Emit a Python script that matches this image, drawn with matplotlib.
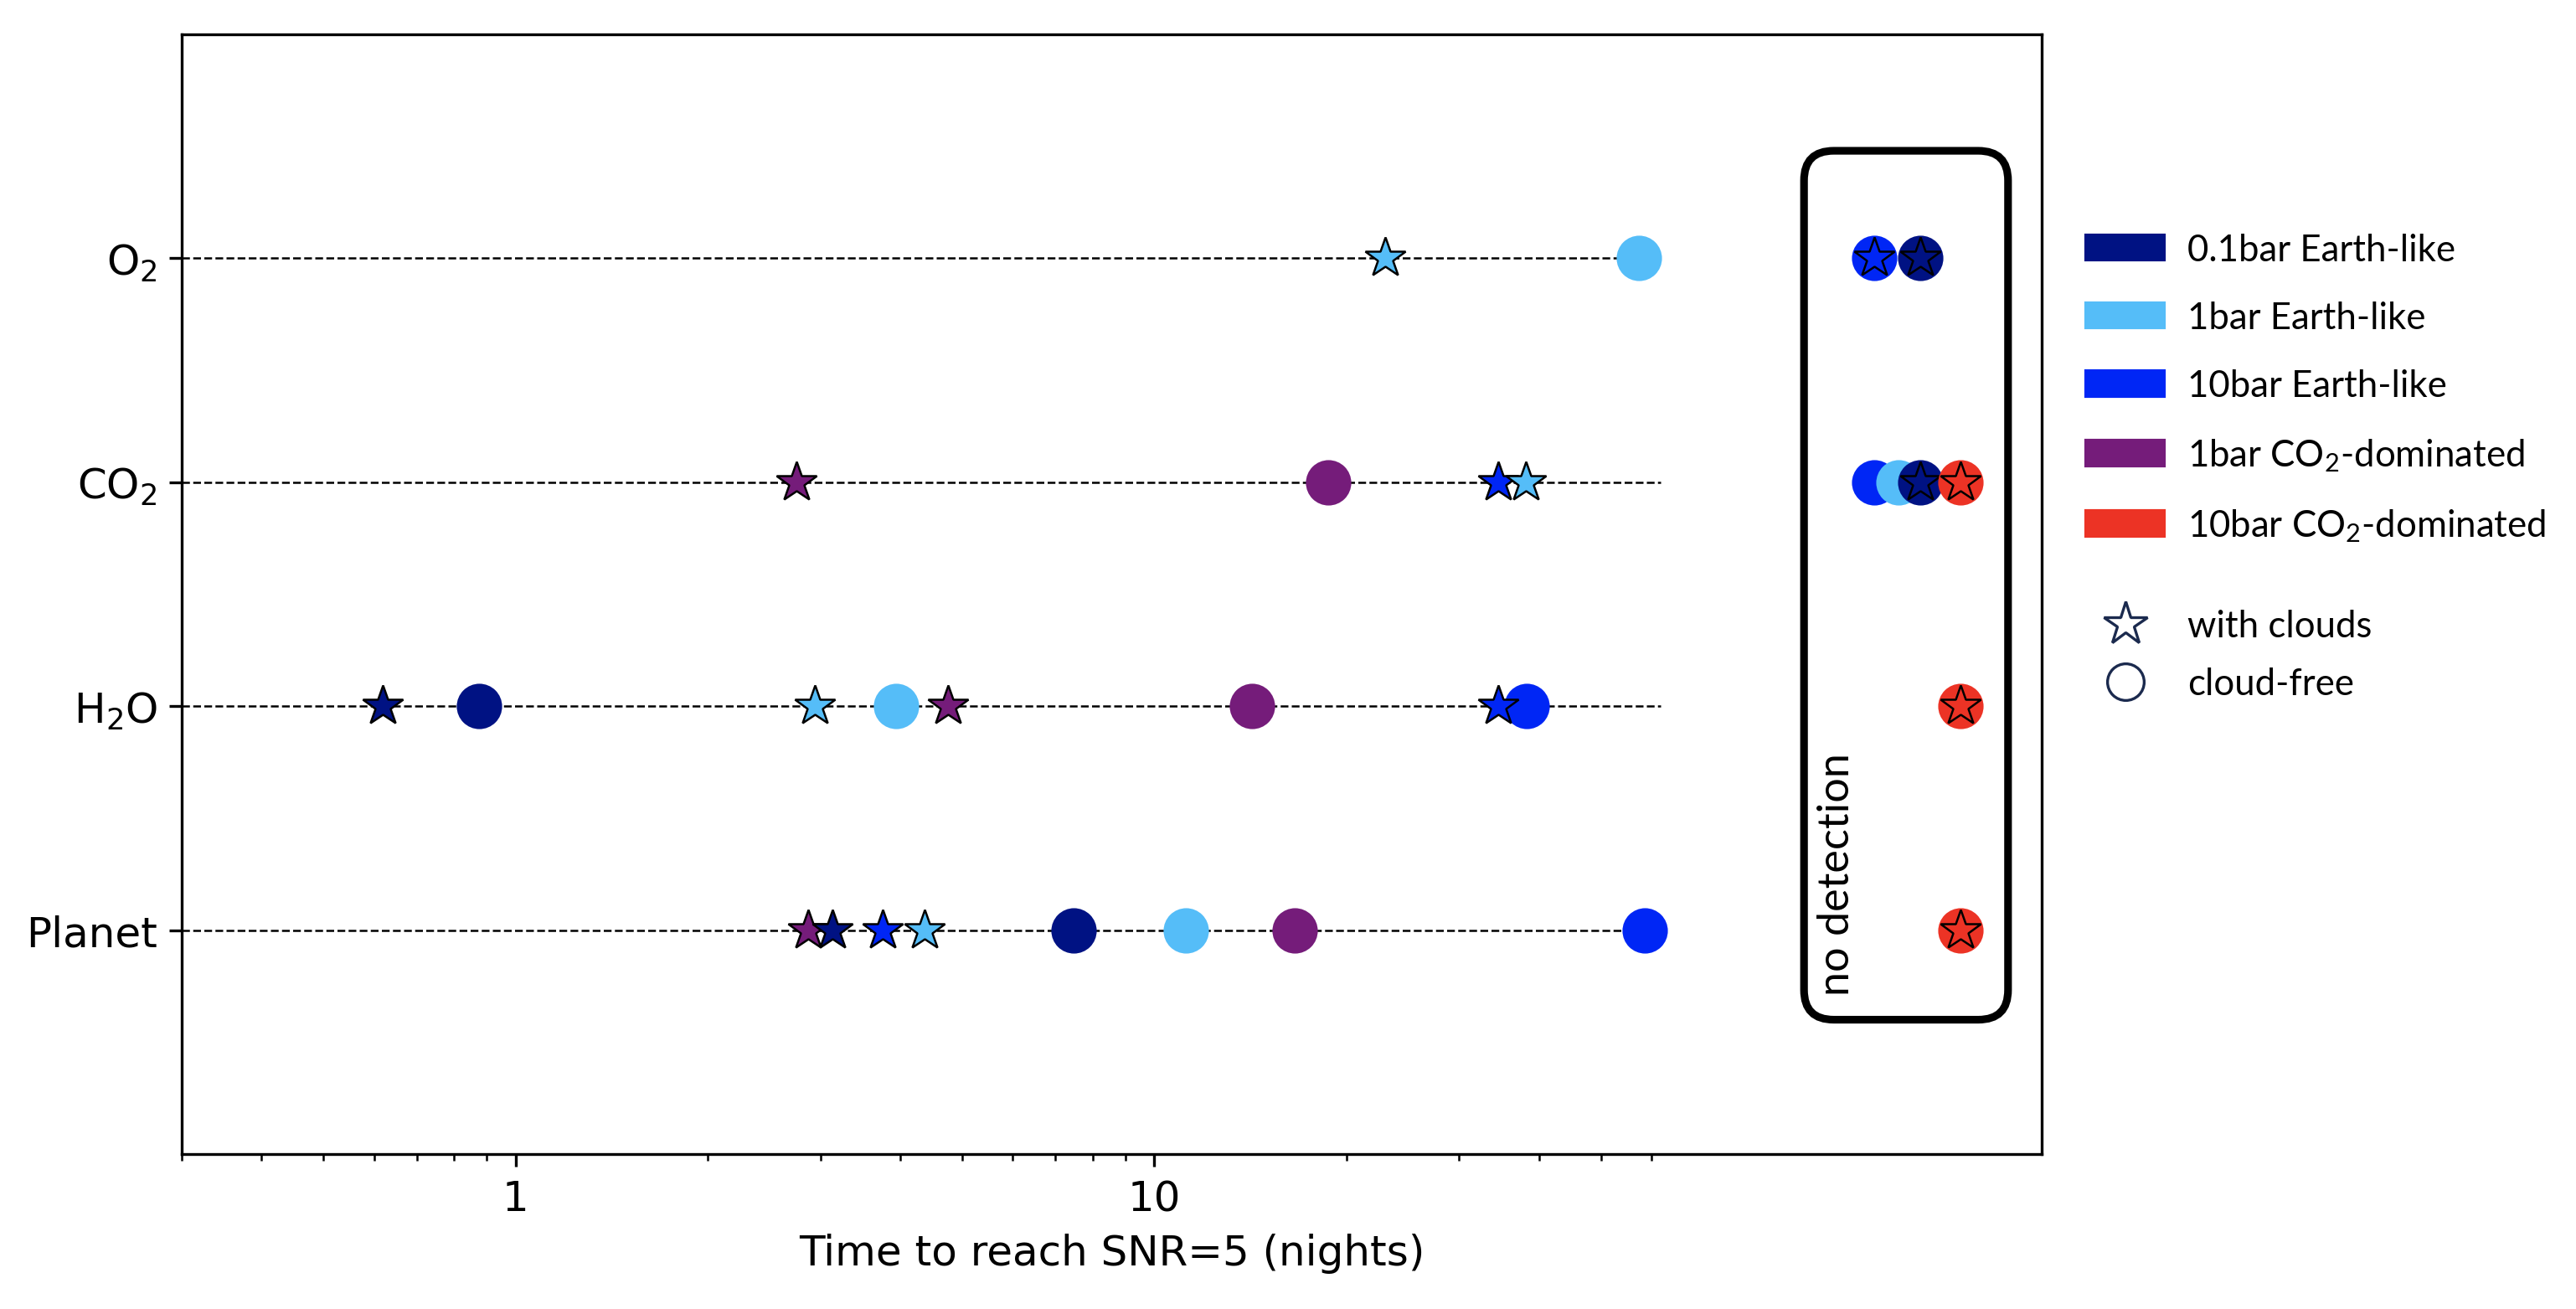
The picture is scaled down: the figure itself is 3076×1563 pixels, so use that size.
import numpy as np
import matplotlib
matplotlib.use('Agg')
import matplotlib.pyplot as plt
import matplotlib.patches as mpatches
import matplotlib.lines as mlines
from matplotlib.font_manager import FontProperties
from matplotlib.ticker import FixedLocator, NullFormatter

plt.rcParams['mathtext.rm'] = 'Lato'
plt.rcParams['mathtext.it'] = 'Lato:italic'
plt.rcParams['mathtext.bf'] = 'Lato:bold'

# rows on the y axis, bottom to top
rows = ['Planet', 'H$_2$O', 'CO$_2$', 'O$_2$']

models = ['0.1bar Earth-like', '1bar Earth-like', '10bar Earth-like',
          '1bar CO$_2$-dominated', '10bar CO$_2$-dominated']
colors = ['#001283', '#55BDF8', '#0026F5', '#751C7A', '#EC3325']

ND = np.inf      # not detected
NA = np.nan      # not applicable

# nights needed for SNR=5, per row (Planet, H2O, CO2, O2)
clear_01bar = [7.48, 0.875, ND, ND]
clear_1bar = [11.2, 3.94, ND, 57.4]
clear_10bar = [58.5, 38.3, ND, ND]
clear_co2_1bar = [16.6, 14.2, 18.7, NA]
clear_co2_10bar = [ND, ND, ND, NA]

cloudy_01bar = [3.13, 0.62, ND, ND]
cloudy_1bar = [4.37, 2.94, 38.2, 23.0]
cloudy_10bar = [3.76, 34.5, 34.5, ND]
cloudy_co2_1bar = [2.87, 4.75, 2.75, NA]
cloudy_co2_10bar = [ND, ND, ND, NA]

clear = [clear_01bar, clear_1bar, clear_10bar, clear_co2_1bar, clear_co2_10bar]
cloudy = [cloudy_01bar, cloudy_1bar, cloudy_10bar, cloudy_co2_1bar, cloudy_co2_10bar]

# where the "no detection" markers sit inside the box, per model
nd_pos = [158, 146, 134, 170, 183]
# stars drawn in this order (later on top)
star_order = [3, 2, 0, 1, 4]

fig = plt.figure(figsize=(3076 / 300, 1564 / 300), dpi=300)
ax = fig.add_axes([217 / 3076, 1 - 1379 / 1564, 2221 / 3076, 1337 / 1564])

ax.set_xscale('log')
ax.set_xlim(0.3, 245)
ax.set_ylim(-1, 4)

ypos = np.arange(len(rows))
ax.hlines(ypos, 0.3, 62, colors='k', linestyles='--', lw=0.6, zorder=1)

# detected, cloud-free
for i in range(len(models)):
    x = np.array(clear[i], dtype=float)
    ok = np.isfinite(x)
    ax.plot(x[ok], ypos[ok], ls='none', marker='o', ms=13,
            mfc=colors[i], mec='none', zorder=3)

# detected, with clouds
for k, i in enumerate(star_order):
    x = np.array(cloudy[i], dtype=float)
    ok = np.isfinite(x)
    ax.plot(x[ok], ypos[ok], ls='none', marker='*', ms=12,
            mfc=colors[i], mec='k', mew=0.6, zorder=4 + k)

# no detection: circle if any case missing, hollow star if the cloudy one is
for k, i in enumerate(np.argsort(nd_pos)):
    c_nd = np.isinf(np.array(clear[i], dtype=float))
    s_nd = np.isinf(np.array(cloudy[i], dtype=float))
    both = c_nd | s_nd
    xs = np.full(both.sum(), nd_pos[i], dtype=float)
    ax.plot(xs, ypos[both], ls='none', marker='o', ms=13,
            mfc=colors[i], mec='none', zorder=10 + 2 * k)
    xs = np.full(s_nd.sum(), nd_pos[i], dtype=float)
    ax.plot(xs, ypos[s_nd], ls='none', marker='*', ms=12,
            mfc='none', mec='k', mew=0.6, zorder=11 + 2 * k)

# rounded box around the no-detection column
to_axes = ax.transScale + ax.transLimits
x0, y0 = to_axes.transform((104, -0.40))
x1, y1 = to_axes.transform((217, 3.48))
aspect = (2221 / 1337)
box = mpatches.FancyBboxPatch((x0, y0), x1 - x0, y1 - y0,
                              boxstyle='round,pad=0,rounding_size=0.016',
                              mutation_aspect=aspect, transform=ax.transAxes,
                              fc='none', ec='k', lw=2.2, zorder=20)
ax.add_patch(box)
ax.text(117, -0.29, 'no detection', rotation=90, ha='center', va='bottom',
        family='Lato', fontsize=12.5, zorder=21)

ax.set_yticks(ypos)
ax.set_yticklabels(rows, fontsize=12)
ax.xaxis.set_major_locator(FixedLocator([1, 10]))
ax.set_xticklabels(['1', '10'], fontsize=12)
minors = [k * 10.0 ** e for e in (-1, 0, 1) for k in range(2, 10)]
minors = [m for m in minors if 0.3 <= m <= 60]
ax.xaxis.set_minor_locator(FixedLocator(minors))
ax.xaxis.set_minor_formatter(NullFormatter())
ax.set_xlabel('Time to reach SNR=5 (nights)', fontsize=12)

# legends
leg_font = FontProperties(family='Lato', size=10.5, math_fontfamily='custom')
patches = [mpatches.Patch(color=c, label=m) for c, m in zip(colors, models)]
leg1 = ax.legend(handles=patches, loc='upper left', bbox_to_anchor=(1.024, 0.823),
                 frameon=False, prop=leg_font, borderpad=0, borderaxespad=0,
                 handlelength=2.13, handleheight=0.66, handletextpad=0.64,
                 labelspacing=0.92)
ax.add_artist(leg1)

star = mlines.Line2D([], [], ls='none', marker='*', ms=13, mfc='none',
                     mec='#1b2a4e', mew=0.8, label='with clouds')
circ = mlines.Line2D([], [], ls='none', marker='o', ms=10.5, mfc='none',
                     mec='#1b2a4e', mew=0.8, label='cloud-free')
ax.legend(handles=[star, circ], loc='upper left', bbox_to_anchor=(1.024, 0.487),
          frameon=False, prop=leg_font, borderpad=0, borderaxespad=0,
          handlelength=2.13, handletextpad=0.64, labelspacing=0.65)

fig.savefig('out.png', dpi=300)
